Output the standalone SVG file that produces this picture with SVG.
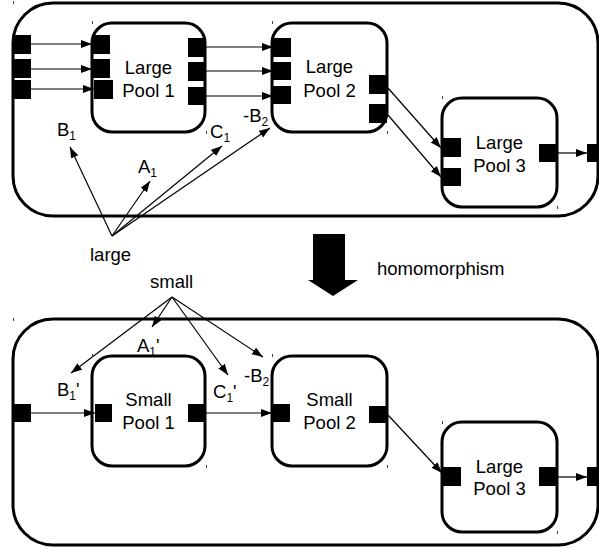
<svg xmlns="http://www.w3.org/2000/svg" width="599" height="550" viewBox="0 0 599 550">
<style>
.outer{fill:#fff;stroke:#000;stroke-width:3}
.pool{fill:#fff;stroke:#000;stroke-width:3}
.port{fill:#000}
.lbl{font-family:"Liberation Sans",Arial,sans-serif;font-size:18.5px;fill:#000}
.nt{font-family:"Liberation Sans",Arial,sans-serif;font-size:18.5px;fill:#000;text-anchor:middle}
.sub{font-size:12px}
.con{stroke:#000;stroke-width:1.2;fill:none;marker-end:url(#ah)}
.tick{stroke:#444;stroke-width:1}
</style>
<defs>
<marker id="ah" markerUnits="userSpaceOnUse" markerWidth="12" markerHeight="10" refX="11" refY="4" orient="auto">
<path d="M0,0 L11,4 L0,8 z" fill="#000"/>
</marker>
</defs>
<g id="top-system">
<rect class="outer" x="13" y="3" width="585" height="213" rx="40"/>
<rect class="port" x="13" y="35" width="18" height="19"/>
<rect class="port" x="13" y="59" width="18" height="19"/>
<rect class="port" x="13" y="80" width="18" height="19"/>
<rect class="port" x="587" y="144" width="12" height="18"/>
</g>
<g id="large-pool-1">
<rect class="pool" x="92" y="23" width="113" height="109" rx="20"/>
<rect class="port" x="92" y="35" width="18" height="19"/>
<rect class="port" x="92" y="59" width="18" height="19"/>
<rect class="port" x="94" y="80" width="19" height="19"/>
<rect class="port" x="188" y="38" width="18" height="19"/>
<rect class="port" x="188" y="62" width="18" height="19"/>
<rect class="port" x="188" y="87" width="18" height="18"/>
<text class="nt" x="148.5" y="74">Large</text>
<text class="nt" x="148.5" y="97">Pool 1</text>
</g>
<g id="large-pool-2">
<rect class="pool" x="272" y="23" width="115" height="109" rx="20"/>
<rect class="port" x="273" y="38" width="18" height="19"/>
<rect class="port" x="273" y="62" width="18" height="18"/>
<rect class="port" x="273" y="86" width="18" height="18"/>
<rect class="port" x="369" y="75" width="18" height="19"/>
<rect class="port" x="369" y="104" width="18" height="19"/>
<text class="nt" x="329.5" y="73">Large</text>
<text class="nt" x="329.5" y="97">Pool 2</text>
</g>
<g id="large-pool-3-top">
<rect class="pool" x="442" y="98" width="115" height="109" rx="20"/>
<rect class="port" x="443" y="138" width="18" height="19"/>
<rect class="port" x="443" y="168" width="18" height="18"/>
<rect class="port" x="539" y="144" width="18" height="18"/>
<text class="nt" x="499.5" y="149">Large</text>
<text class="nt" x="499.5" y="172">Pool 3</text>
</g>
<g id="bottom-system">
<rect class="outer" x="13" y="319" width="585" height="226" rx="40"/>
<rect class="port" x="13" y="404" width="18" height="18"/>
<rect class="port" x="587" y="467" width="12" height="19"/>
</g>
<g id="small-pool-1">
<rect class="pool" x="92" y="356" width="113" height="110" rx="20"/>
<rect class="port" x="95" y="404" width="17" height="18"/>
<rect class="port" x="188" y="404" width="18" height="18"/>
<text class="nt" x="148.5" y="406">Small</text>
<text class="nt" x="148.5" y="429">Pool 1</text>
</g>
<g id="small-pool-2">
<rect class="pool" x="272" y="356" width="115" height="110" rx="20"/>
<rect class="port" x="272" y="404" width="18" height="18"/>
<rect class="port" x="369" y="406" width="18" height="17"/>
<text class="nt" x="329.5" y="406">Small</text>
<text class="nt" x="329.5" y="429">Pool 2</text>
</g>
<g id="large-pool-3-bottom">
<rect class="pool" x="442" y="422" width="115" height="110" rx="20"/>
<rect class="port" x="443" y="467" width="18" height="19"/>
<rect class="port" x="539" y="467" width="18" height="19"/>
<text class="nt" x="499.5" y="473">Large</text>
<text class="nt" x="499.5" y="495">Pool 3</text>
</g>
<g id="homomorphism">
<polygon points="313,234 345,234 345,280 358,280 333,296 308,280 313,280" fill="#000"/>
<text class="lbl" x="377" y="275">homomorphism</text>
</g>
<g id="labels">
<text class="lbl" x="90" y="261">large</text>
<text class="lbl" x="150" y="288">small</text>
<text class="lbl" x="57" y="136">B<tspan class="sub" dy="4">1</tspan></text>
<text class="lbl" x="138" y="173">A<tspan class="sub" dy="4">1</tspan></text>
<text class="lbl" x="210" y="138">C<tspan class="sub" dy="4">1</tspan></text>
<text class="lbl" x="243" y="122">-B<tspan class="sub" dy="4">2</tspan></text>
<text class="lbl" x="137" y="352">A<tspan class="sub" dy="4">1</tspan><tspan dy="-4">'</tspan></text>
<text class="lbl" x="57" y="396">B<tspan class="sub" dy="4">1</tspan><tspan dy="-4">'</tspan></text>
<text class="lbl" x="213" y="398">C<tspan class="sub" dy="4">1</tspan><tspan dy="-4">'</tspan></text>
<text class="lbl" x="244" y="382">-B<tspan class="sub" dy="4">2</tspan></text>
</g>
<g id="connectors">
<line class="con" x1="31" y1="44" x2="92" y2="44"/>
<line class="con" x1="31" y1="69" x2="92" y2="69"/>
<line class="con" x1="31" y1="89" x2="94" y2="89"/>
<line class="con" x1="206" y1="47" x2="273" y2="47"/>
<line class="con" x1="206" y1="71" x2="273" y2="71"/>
<line class="con" x1="206" y1="96" x2="273" y2="96"/>
<line class="con" x1="388" y1="88" x2="441" y2="148"/>
<line class="con" x1="388" y1="115" x2="441" y2="177"/>
<line class="con" x1="557" y1="153" x2="587" y2="153"/>
<line class="con" x1="112" y1="236" x2="70" y2="147"/>
<line class="con" x1="112" y1="236" x2="150" y2="181"/>
<line class="con" x1="112" y1="236" x2="222" y2="146"/>
<line class="con" x1="112" y1="236" x2="270" y2="128"/>
<line class="con" x1="172" y1="297" x2="71" y2="373"/>
<line class="con" x1="172" y1="297" x2="152" y2="327"/>
<line class="con" x1="172" y1="297" x2="228" y2="375"/>
<line class="con" x1="172" y1="297" x2="263" y2="357"/>
<line class="con" x1="31" y1="413" x2="95" y2="413"/>
<line class="con" x1="206" y1="413" x2="272" y2="413"/>
<line class="con" x1="388" y1="415" x2="442" y2="473"/>
<line class="con" x1="557" y1="477" x2="587" y2="477"/>
</g>
<g id="ticks">
<line class="tick" x1="13.5" y1="1" x2="13.5" y2="4"/>
<line class="tick" x1="92.5" y1="21" x2="92.5" y2="24"/>
<line class="tick" x1="272.5" y1="21" x2="272.5" y2="24"/>
<line class="tick" x1="206.5" y1="131" x2="206.5" y2="134"/>
<line class="tick" x1="387.5" y1="131" x2="387.5" y2="134"/>
<line class="tick" x1="442.5" y1="96" x2="442.5" y2="99"/>
<line class="tick" x1="557.5" y1="206" x2="557.5" y2="209"/>
<line class="tick" x1="13.5" y1="318" x2="13.5" y2="321"/>
<line class="tick" x1="92.5" y1="354" x2="92.5" y2="357"/>
<line class="tick" x1="272.5" y1="354" x2="272.5" y2="357"/>
<line class="tick" x1="206.5" y1="465" x2="206.5" y2="468"/>
<line class="tick" x1="387.5" y1="465" x2="387.5" y2="468"/>
<line class="tick" x1="442.5" y1="421" x2="442.5" y2="424"/>
<line class="tick" x1="557.5" y1="531" x2="557.5" y2="534"/>
</g>
</svg>
